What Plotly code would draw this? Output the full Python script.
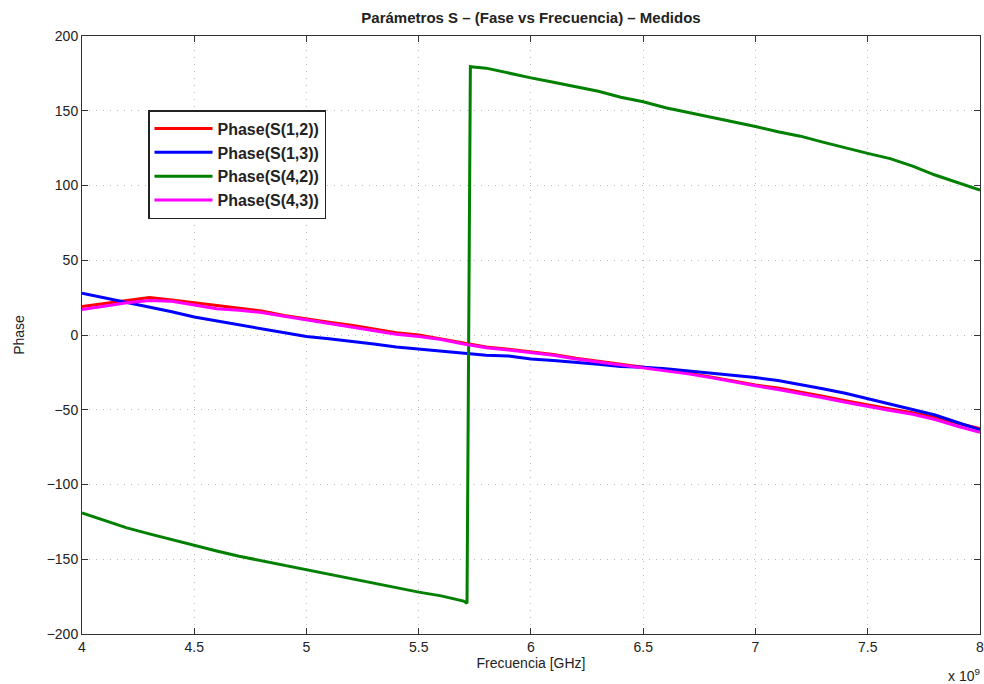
import plotly.graph_objects as go

# Frequency samples (GHz, axis shown as x 10^9 Hz)
freq = [4.0, 4.1, 4.2, 4.3, 4.4, 4.5, 4.6, 4.7, 4.8, 4.9,
        5.0, 5.1, 5.2, 5.3, 5.4, 5.5, 5.6, 5.7, 5.8, 5.9,
        6.0, 6.1, 6.2, 6.3, 6.4, 6.5, 6.6, 6.7, 6.8, 6.9,
        7.0, 7.1, 7.2, 7.3, 7.4, 7.5, 7.6, 7.7, 7.8, 7.9, 8.0]

s12 = [19, 21, 23.5, 25, 23.5, 21.5, 19.5, 18, 16, 13,
       10.5, 8.5, 6.5, 4, 1.5, 0, -2.5, -5.5, -8, -9.5,
       -11, -13, -15.5, -17.5, -19.5, -21.5, -23, -25.5, -28, -31,
       -33.5, -35.5, -38, -41, -44, -47, -49.5, -52, -55, -59, -62.5]

s13 = [28, 25, 22, 19, 15.5, 12, 9.5, 7, 4.5, 1.5,
       -1, -2.5, -4, -6, -8, -9.5, -11, -12.5, -13.5, -14,
       -16, -17, -18, -19.5, -21, -21.5, -22.5, -24, -25, -27,
       -28.5, -30.5, -33, -36, -39, -42.5, -46, -49.5, -53.5, -58.5, -63.5]

s43 = [17, 19.5, 21.5, 23, 22.5, 20, 17.5, 16.5, 15, 12.5,
       10, 7.5, 5.5, 3, 0.5, -1, -3, -6, -8.5, -10,
       -11.5, -13.5, -16, -18, -20, -22, -23.5, -26, -28.5, -31.5,
       -34, -36.5, -39, -42, -45, -48, -50.5, -53, -56.5, -61, -65]

freq42 = [4.0, 4.1, 4.2, 4.3, 4.4, 4.5, 4.6, 4.7, 4.8, 4.9,
          5.0, 5.1, 5.2, 5.3, 5.4, 5.5, 5.6, 5.7, 5.715, 5.73,
          5.8, 5.9, 6.0, 6.1, 6.2, 6.3, 6.4, 6.5, 6.6, 6.7,
          6.8, 6.9, 7.0, 7.1, 7.2, 7.3, 7.4, 7.5, 7.6, 7.7,
          7.8, 7.9, 8.0]
s42 = [-119, -124, -129, -133, -137, -141, -144.5, -148, -151, -154,
       -157, -160, -163.5, -166, -169, -172, -174.5, -178, -179.5, 179.5,
       178.5, 175, 172, 169, 166, 163, 159, 156, 152, 149,
       146, 143, 139.5, 136, 133, 129, 125, 121.5, 118, 113,
       107, 102, 97]

series = [
    ("Phase(S(1,2))", freq, s12, "#ff0000"),
    ("Phase(S(1,3))", freq, s13, "#0000ff"),
    ("Phase(S(4,2))", freq42, s42, "#008000"),
    ("Phase(S(4,3))", freq, s43, "#ff00ff"),
]

x_ticks = [4, 4.5, 5, 5.5, 6, 6.5, 7, 7.5, 8]
x_labels = ["4", "4.5", "5", "5.5", "6", "6.5", "7", "7.5", "8"]
y_ticks = [-200, -150, -100, -50, 0, 50, 100, 150, 200]

fig = go.Figure()
for name, xs, ys, col in series:
    fig.add_trace(go.Scatter(x=xs, y=ys, mode="lines", name=name,
                             line=dict(color=col, width=3)))

FONT = "Liberation Sans, Arial, sans-serif"
axis_common = dict(
    showline=True, linecolor="#333333", linewidth=1, mirror="allticks",
    ticks="inside", ticklen=6, tickcolor="#333333",
    showgrid=True, gridcolor="#bdbdbd", griddash="1px,6px", gridwidth=1,
    zeroline=False, automargin=False, ticklabeloverflow="allow",
    tickfont=dict(family=FONT, size=14, color="#222222"),
)

fig.update_xaxes(range=[4, 8.0001], tickvals=x_ticks, ticktext=x_labels,
                 title=dict(text="Frecuencia [GHz]", standoff=2,
                            font=dict(family=FONT, size=14, color="#222222")),
                 **axis_common)
fig.update_yaxes(range=[-200, 200], tickvals=y_ticks,
                 title=dict(text="Phase", standoff=18,
                            font=dict(family=FONT, size=14, color="#222222")),
                 **axis_common)

fig.update_layout(
    width=984, height=684,
    margin=dict(l=82, r=4, t=36, b=50),
    paper_bgcolor="white", plot_bgcolor="white",
    title=dict(text="<b>Parámetros S – (Fase vs Frecuencia) – Medidos</b>",
               xref="paper", x=0.5, xanchor="center",
               yref="container", y=0.974, yanchor="middle",
               font=dict(family=FONT, size=15, color="#222222")),
    legend=dict(x=0.0735, y=0.876, xanchor="left", yanchor="top",
                bgcolor="white", bordercolor="#222222", borderwidth=1.5,
                font=dict(family=FONT, size=16, color="#222222", weight="bold"),
                tracegroupgap=0, itemwidth=58),
    showlegend=True,
    annotations=[dict(text="x 10<sup>9</sup>", xref="paper", yref="paper",
                      x=1.0, y=-0.069, xanchor="right", yanchor="middle",
                      xshift=2, showarrow=False,
                      font=dict(family=FONT, size=14, color="#222222"))],
)

# Remove the default 8px page margin so the 984x684 figure fills the window.
fig.write_html("out.html",
               config={"displayModeBar": False},
               post_script="document.body.style.margin='0';"
                           "document.body.style.overflow='hidden';")
